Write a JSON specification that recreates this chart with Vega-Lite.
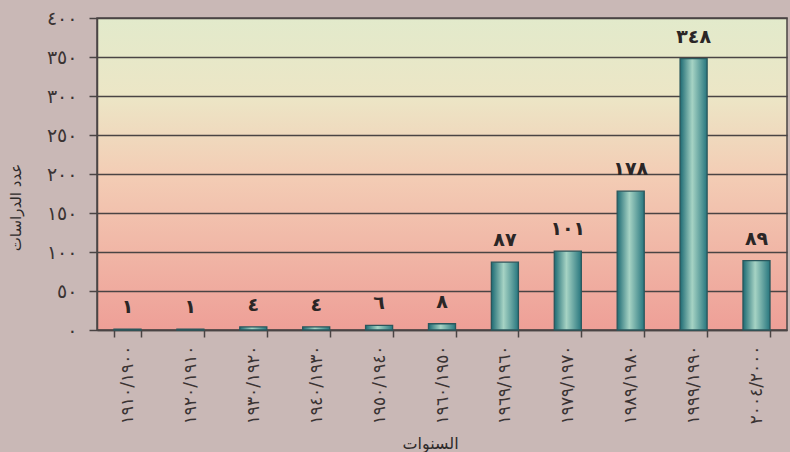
{
  "$schema": "https://vega.github.io/schema/vega-lite/v6.json",
  "width": 690,
  "height": 312,
  "autosize": {"type": "none"},
  "padding": {"left": 97, "top": 18, "right": 3, "bottom": 122},
  "background": "#c9b8b6",
  "config": {
    "locale": {
      "number": {
        "decimal": "٫",
        "thousands": "٬",
        "grouping": [3],
        "currency": ["", ""],
        "numerals": ["٠", "١", "٢", "٣", "٤", "٥", "٦", "٧", "٨", "٩"]
      }
    },
    "font": "DejaVu Sans",
    "view": {
      "stroke": "#4a4444",
      "strokeWidth": 1.5,
      "fill": {
        "gradient": "linear",
        "x1": 0, "y1": 0, "x2": 0, "y2": 1,
        "stops": [
          {"offset": 0, "color": "#e2eacb"},
          {"offset": 0.25, "color": "#ece6c6"},
          {"offset": 0.5, "color": "#f3cdb5"},
          {"offset": 1, "color": "#ee9f97"}
        ]
      }
    }
  },
  "data": {
    "values": [
      {"period": "١٩١٠/١٩٠٠", "count": 1},
      {"period": "١٩٢٠/١٩١٠", "count": 1},
      {"period": "١٩٣٠/١٩٢٠", "count": 4},
      {"period": "١٩٤٠/١٩٣٠", "count": 4},
      {"period": "١٩٥٠/١٩٤٠", "count": 6},
      {"period": "١٩٦٠/١٩٥٠", "count": 8},
      {"period": "١٩٦٩/١٩٦٠", "count": 87},
      {"period": "١٩٧٩/١٩٧٠", "count": 101},
      {"period": "١٩٨٩/١٩٨٠", "count": 178},
      {"period": "١٩٩٩/١٩٩٠", "count": 348},
      {"period": "٢٠٠٤/٢٠٠٠", "count": 89}
    ]
  },
  "encoding": {
    "x": {
      "field": "period",
      "type": "nominal",
      "sort": null,
      "scale": {"paddingInner": 0.57, "paddingOuter": 0.27},
      "axis": {
        "title": "السنوات",
        "titleFontSize": 16,
        "titleFontWeight": "normal",
        "titleColor": "#2e2a2a",
        "titleX": 333,
        "titleY": 113,
        "titleAlign": "center",
        "titleBaseline": "middle",
        "labelAngle": 270,
        "labelFontSize": 17,
        "labelColor": "#3a3333",
        "labelPadding": 8,
        "tickBand": "extent",
        "tickSize": 7,
        "tickColor": "#4a4444",
        "tickWidth": 1.5,
        "domainColor": "#4a4444",
        "domainWidth": 1.5,
        "grid": false
      }
    },
    "y": {
      "field": "count",
      "type": "quantitative",
      "scale": {"domain": [0, 400], "nice": false},
      "axis": {
        "title": "عدد الدراسات",
        "titleFontSize": 15,
        "titleFontWeight": "normal",
        "titleColor": "#2e2a2a",
        "titleAngle": 270,
        "titleX": -82,
        "titleY": 189,
        "titleAlign": "center",
        "titleBaseline": "middle",
        "values": [0, 50, 100, 150, 200, 250, 300, 350, 400],
        "format": "d",
        "labelFontSize": 19,
        "labelColor": "#3a3333",
        "labelPadding": 12,
        "tickSize": 8,
        "tickColor": "#4a4444",
        "tickWidth": 1.5,
        "domainColor": "#4a4444",
        "domainWidth": 1.5,
        "grid": true,
        "gridColor": "#4a4444",
        "gridWidth": 1.5,
        "gridOpacity": 1
      }
    }
  },
  "layer": [
    {
      "mark": {
        "type": "bar",
        "stroke": "#2a575c",
        "strokeWidth": 1.3,
        "color": {
          "gradient": "linear",
          "x1": 0, "y1": 0, "x2": 1, "y2": 0,
          "stops": [
            {"offset": 0, "color": "#1d6a73"},
            {"offset": 0.45, "color": "#a6d3c4"},
            {"offset": 1, "color": "#27767e"}
          ]
        }
      }
    },
    {
      "mark": {
        "type": "text",
        "baseline": "bottom",
        "dy": -12,
        "fontSize": 19,
        "fontWeight": "bold",
        "color": "#2b2626"
      },
      "encoding": {
        "text": {"field": "count", "type": "quantitative", "format": "d"}
      }
    }
  ]
}
